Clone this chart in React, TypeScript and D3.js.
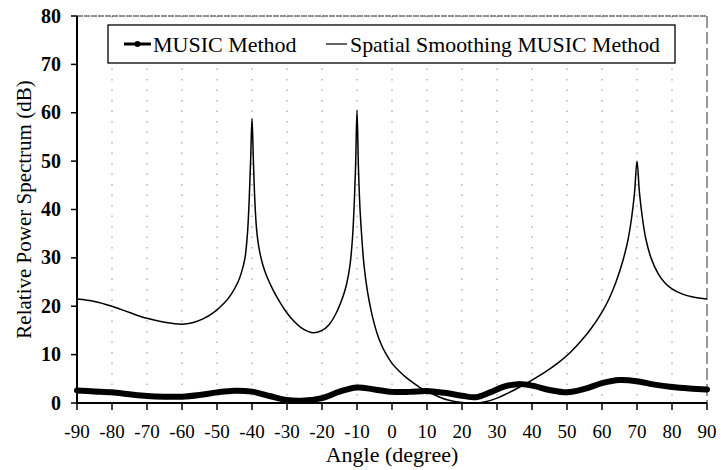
import React from "react";
import * as d3 from "d3";

const xTicks = [-90, -80, -70, -60, -50, -40, -30, -20, -10, 0, 10, 20, 30, 40, 50, 60, 70, 80, 90];
const yTicks = [0, 10, 20, 30, 40, 50, 60, 70, 80];

const ssAngles = [-90, -85, -80, -75, -70, -65, -60, -57, -54, -51, -48, -46, -44, -43, -42, -41.3, -40.8, -40.4, -40, -39.6, -39.2, -38.7, -38, -37, -36, -35, -34, -32, -30, -28, -26, -24, -22.5, -20, -18, -16, -14, -13, -12, -11.3, -10.8, -10.4, -10, -9.6, -9.2, -8.7, -8, -7, -6, -5, -4, -3, -2, 0, 2, 4, 6, 8, 10, 13, 16, 20, 24, 27, 30, 33, 36, 39, 42, 45, 48, 51, 54, 57, 60, 62, 64, 66, 67.5, 68.5, 69.3, 70, 70.7, 71.5, 72.5, 74, 76, 78, 80, 83, 86, 90];
const ssValues = [21.5, 21.0, 20.0, 18.7, 17.5, 16.7, 16.3, 16.6, 17.4, 18.7, 20.6, 22.4, 25.0, 27.0, 30.0, 35.0, 42.0, 50.0, 58.8, 50.0, 42.0, 36.0, 32.0, 28.8, 26.6, 24.9, 23.4, 20.8, 18.6, 16.9, 15.6, 14.8, 14.5, 15.0, 16.2, 18.5, 22.0, 24.5, 28.5, 34.0, 41.0, 49.0, 60.5, 49.0, 41.0, 35.0, 28.5, 23.0, 19.2, 16.2, 13.8, 12.0, 10.5, 8.2, 6.6, 5.3, 4.2, 3.2, 2.4, 1.4, 0.6, 0.1, 0, 0.3, 1.0, 2.0, 3.1, 4.3, 5.6, 7.0, 8.6, 10.5, 12.8, 15.5, 18.8, 21.5, 25.0, 29.5, 34.0, 38.5, 43.5, 50.0, 43.5, 38.5, 34.0, 30.0, 26.8, 24.8, 23.6, 22.5, 21.9, 21.5];

const musicAngles = [-90, -85, -80, -75, -70, -65, -60, -55, -50, -45, -40, -35, -30, -25, -20, -15, -10, -5, 0, 5, 10, 15, 20, 24, 28, 32, 36, 40, 45, 50, 55, 60, 65, 70, 75, 80, 85, 90];
const musicValues = [2.6, 2.4, 2.2, 1.8, 1.45, 1.3, 1.3, 1.65, 2.2, 2.55, 2.35, 1.45, 0.6, 0.5, 1.0, 2.35, 3.2, 2.8, 2.3, 2.3, 2.5, 2.1, 1.5, 1.2, 2.2, 3.4, 3.9, 3.6, 2.7, 2.2, 2.9, 4.1, 4.75, 4.5, 3.8, 3.3, 3.0, 2.8];

const legendLabels = ["MUSIC Method", "Spatial Smoothing MUSIC Method"];

const W = 721, H = 470;
const L = 77, R = 707, T = 16, B = 403;
const FONT = "'Liberation Serif', 'Times New Roman', serif";

export default function App() {
  const x = d3.scaleLinear().domain([-90, 90]).range([L, R]);
  const y = d3.scaleLinear().domain([0, 80]).range([B, T]);
  const line = d3
    .line<[number, number]>()
    .x((d) => x(d[0]))
    .y((d) => y(d[1]))
    .curve(d3.curveCatmullRom.alpha(0.5));
  const ssData: [number, number][] = ssAngles.map((a, i) => [a, ssValues[i]]);
  const muData: [number, number][] = musicAngles.map((a, i) => [a, musicValues[i]]);

  return (
    <svg width={W} height={H} style={{ position: "absolute", left: 0, top: 0, background: "#fff" }}>
      <rect x={0} y={0} width={W} height={H} fill="#fff" />
      {/* dotted vertical grid */}
      {xTicks.slice(1, -1).map((t) => (
        <line key={"g" + t} x1={x(t)} x2={x(t)} y1={T} y2={B} stroke="#333" strokeWidth={1} strokeDasharray="1.5 9" opacity={0.55} />
      ))}
      {/* frame */}
      <line x1={L} x2={R} y1={T} y2={T} stroke="#222" strokeWidth={1} strokeDasharray="6 1" />
      <line x1={R} x2={R} y1={T} y2={B} stroke="#333" strokeWidth={1} strokeDasharray="12 4" />
      <line x1={L} x2={L} y1={T} y2={B + 1} stroke="#000" strokeWidth={2} />
      <line x1={L} x2={R} y1={B} y2={B} stroke="#000" strokeWidth={1.8} />
      {/* x ticks */}
      {xTicks.map((t) => (
        <g key={"x" + t}>
          <line x1={x(t)} x2={x(t)} y1={B} y2={B + 7} stroke="#000" strokeWidth={1.5} />
          <text x={x(t)} y={438} textAnchor="middle" fontFamily={FONT} fontSize={19} fill="#000">
            {t}
          </text>
        </g>
      ))}
      {/* y ticks */}
      {yTicks.map((t) => (
        <g key={"y" + t}>
          <line x1={L - 6} x2={L} y1={y(t)} y2={y(t)} stroke="#000" strokeWidth={1.5} />
          <text x={61} y={y(t) + 6.5} textAnchor="end" fontFamily={FONT} fontSize={20} fontWeight="bold" fill="#000">
            {t}
          </text>
        </g>
      ))}
      {/* axis titles */}
      <text x={(L + R) / 2} y={462} textAnchor="middle" fontFamily={FONT} fontSize={22} fill="#000">
        Angle (degree)
      </text>
      <text transform={`translate(31, ${(T + B) / 2}) rotate(-90)`} textAnchor="middle" fontFamily={FONT} fontSize={21} fill="#000">
        Relative Power Spectrum (dB)
      </text>
      {/* series */}
      <path d={line(muData) || ""} fill="none" stroke="#000" strokeWidth={6} strokeLinejoin="round" strokeLinecap="round" />
      <path d={line(ssData) || ""} fill="none" stroke="#000" strokeWidth={1.5} strokeLinejoin="round" />
      {/* legend */}
      <rect x={108} y={25} width={567} height={38} fill="#fff" stroke="#000" strokeWidth={1.3} />
      <line x1={124} x2={151} y1={44} y2={44} stroke="#000" strokeWidth={3} />
      <circle cx={137.5} cy={44} r={3} fill="#000" />
      <text x={153} y={52} fontFamily={FONT} fontSize={22} fill="#000">
        {legendLabels[0]}
      </text>
      <line x1={326} x2={347} y1={44} y2={44} stroke="#000" strokeWidth={1.2} />
      <text x={350} y={52} fontFamily={FONT} fontSize={22} fill="#000" textLength={310} lengthAdjust="spacingAndGlyphs">
        {legendLabels[1]}
      </text>
    </svg>
  );
}
